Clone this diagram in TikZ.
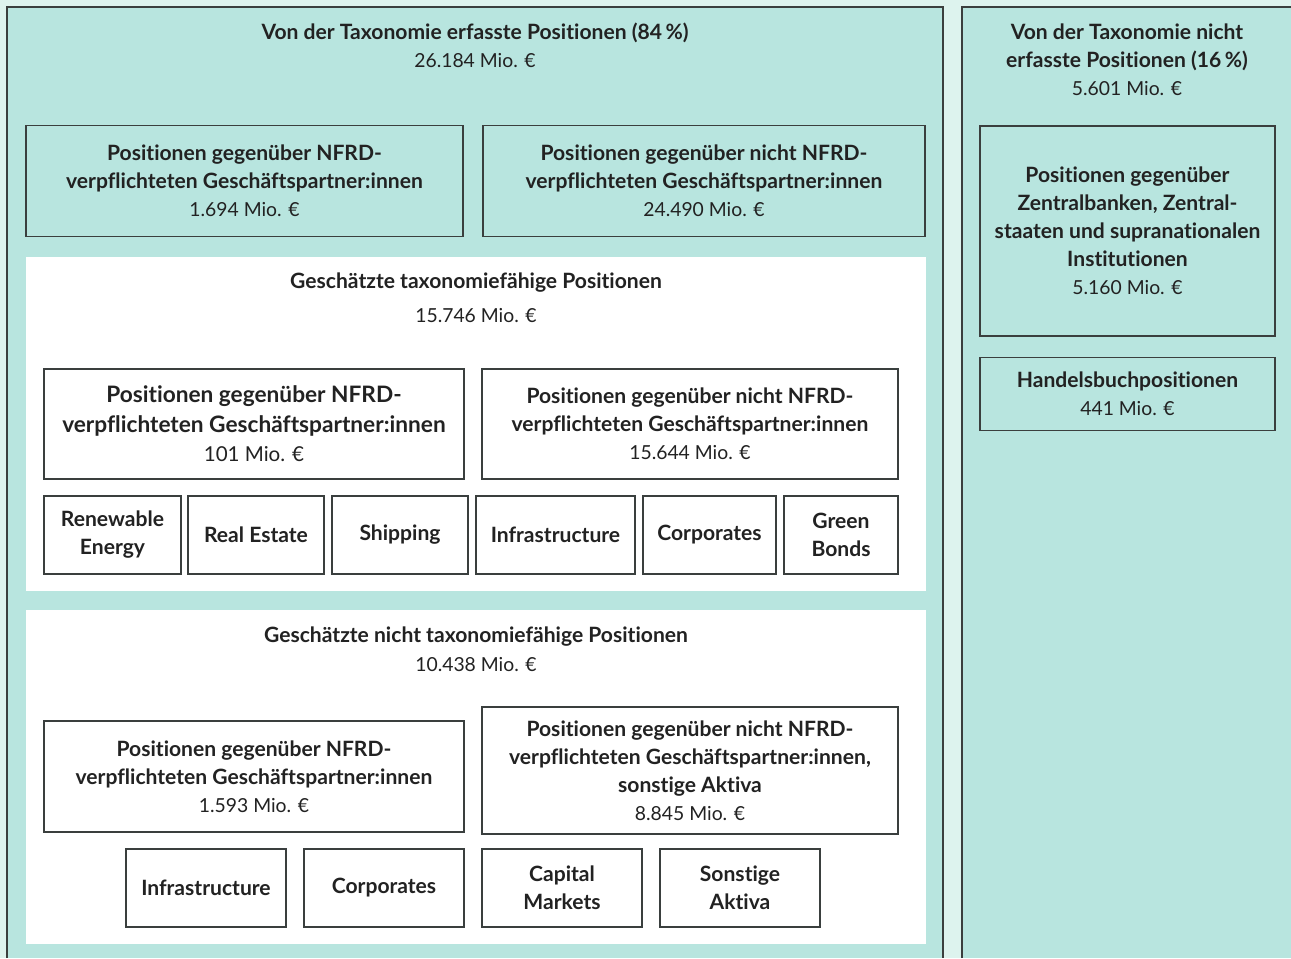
\documentclass[tikz,border=0pt]{standalone}
\usepackage{fontspec}
\setmainfont{Lato}[Ligatures=NoCommon]
\usepackage{xcolor}
\usetikzlibrary{positioning}
\definecolor{taxmint}{HTML}{DDF3EE}
\definecolor{taxteal}{HTML}{B8E5DF}
\definecolor{taxink}{HTML}{222222}
\definecolor{taxedge}{HTML}{3A3F3E}
\newcommand\taxval[1]{{\mdseries\fontsize{11}{15.9}\selectfont #1}}
\tikzset{
    boxsize/.style 2 args={minimum width=#1*0.02cm, minimum height=#2*0.02cm},
    taxline/.style={draw=taxedge, line width=0.8pt},
    taxbox/.style={taxline, rectangle, align=center, inner sep=0pt, fill=taxteal, text=taxink, font=\bfseries\fontsize{12}{15.9}\selectfont},
    taxwhitebox/.style={taxbox, fill=white},
    taxpanel/.style={rectangle, fill=white, inner sep=0pt},
    taxtitle/.style={align=center, inner sep=0pt, text=taxink, font=\bfseries\fontsize{12}{15.9}\selectfont},
    taxvalue/.style={align=center, inner sep=0pt, text=taxink, font=\mdseries\fontsize{11}{15.9}\selectfont}
}

\begin{document}
\begin{tikzpicture}[x=0.02cm, y=-0.02cm]
    \useasboundingbox (0,0) rectangle (1291,958);
    \fill[taxmint] (0,0) rectangle (1291,958);
    \fill[taxteal] (7,7) rectangle (943,958);
    \draw[taxline] (7,958) -- (7,7) -- (943,7) -- (943,958);
    \fill[taxteal] (962,7) rectangle (1291,958);
    \draw[taxline] (962,958) -- (962,7) -- (1291,7);

    \node[taxtitle] (covtitle) at (475,33) {Von der Taxonomie erfasste Positionen (84\,\%)};
    \node[taxvalue] (covvalue) at (475,61) {26.184 Mio. €};
    \node[taxtitle] (notcovtitle) at (1127,47) {Von der Taxonomie nicht\\erfasste Positionen (16\,\%)};
    \node[taxvalue] (notcovvalue) at (1127,89) {5.601 Mio. €};

    \node[taxbox, boxsize={437}{111}] (nfrd) at (244.5,181) {Positionen gegenüber NFRD-\\verpflichteten Geschäftspartner:innen\\\taxval{1.694 Mio. €}};
    \node[taxbox, boxsize={442}{111}] (nonnfrd) at (704,181) {Positionen gegenüber nicht NFRD-\\verpflichteten Geschäftspartner:innen\\\taxval{24.490 Mio. €}};
    \node[taxbox, boxsize={295}{210}] (central) at (1127.5,231) {Positionen gegenüber\\Zentralbanken, Zentral-\\staaten und supranationalen\\Institutionen\\\taxval{5.160 Mio. €}};
    \node[taxbox, boxsize={295}{73}] (trading) at (1127.5,394) {Handelsbuchpositionen\\\taxval{441 Mio. €}};

    \node[taxpanel, boxsize={900}{334}] (eligible) at (476,424) {};
    \node[taxtitle] (eligtitle) at (476,283) {Geschätzte taxonomiefähige Positionen};
    \node[taxvalue] (eligvalue) at (476,316) {15.746 Mio. €};
    \node[taxwhitebox, boxsize={420}{110}, font=\bfseries\fontsize{12.9}{16.8}\selectfont] (eligfrd) at (254,424) {Positionen gegenüber NFRD-\\verpflichteten Geschäftspartner:innen\\{\mdseries\fontsize{11.7}{16.8}\selectfont 101 Mio. €}};
    \node[taxwhitebox, boxsize={416}{110}] (elignonfrd) at (690,424) {Positionen gegenüber nicht NFRD-\\verpflichteten Geschäftspartner:innen\\\taxval{15.644 Mio. €}};
    \node[taxwhitebox, boxsize={137}{78}] (renew) at (112.5,535) {Renewable\\Energy};
    \node[taxwhitebox, boxsize={136}{78}] (realestate) at (256,535) {Real Estate};
    \node[taxwhitebox, boxsize={136}{78}] (shipping) at (400,535) {Shipping};
    \node[taxwhitebox, boxsize={159}{78}] (infra) at (555.5,535) {Infrastructure};
    \node[taxwhitebox, boxsize={133}{78}] (corp) at (709.5,535) {Corporates};
    \node[taxwhitebox, boxsize={114}{78}] (green) at (841,535) {Green\\Bonds};

    \node[taxpanel, boxsize={900}{334}] (noneligible) at (476,777) {};
    \node[taxtitle] (noneligtitle) at (476,637) {Geschätzte nicht taxonomiefähige Positionen};
    \node[taxvalue] (noneligvalue) at (476,665) {10.438 Mio. €};
    \node[taxwhitebox, boxsize={420}{111}] (noneligfrd) at (254,776.5) {Positionen gegenüber NFRD-\\verpflichteten Geschäftspartner:innen\\\taxval{1.593 Mio. €}};
    \node[taxwhitebox, boxsize={416}{127}] (nonelignonfrd) at (690,770.5) {Positionen gegenüber nicht NFRD-\\verpflichteten Geschäftspartner:innen,\\sonstige Aktiva\\\taxval{8.845 Mio. €}};
    \node[taxwhitebox, boxsize={160}{78}] (ninfra) at (206,888) {Infrastructure};
    \node[taxwhitebox, boxsize={160}{78}] (ncorp) at (384,888) {Corporates};
    \node[taxwhitebox, boxsize={160}{78}] (capital) at (562,888) {Capital\\Markets};
    \node[taxwhitebox, boxsize={160}{78}] (other) at (740,888) {Sonstige\\Aktiva};
\end{tikzpicture}
\end{document}
